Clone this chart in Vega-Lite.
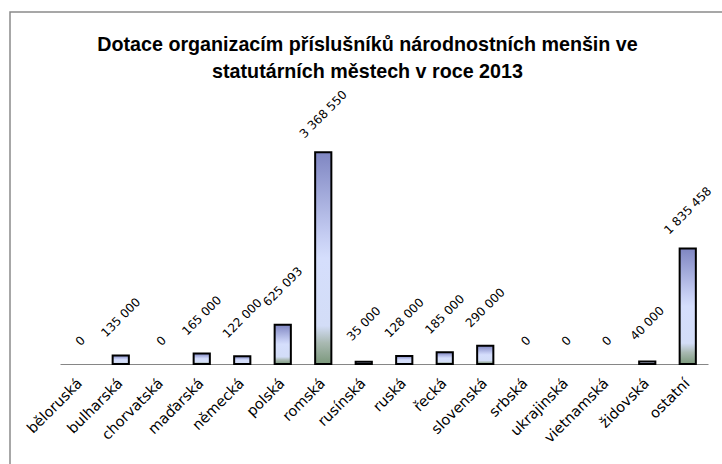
{
  "$schema": "https://vega.github.io/schema/vega-lite/v6.json",
  "width": 715,
  "height": 455,
  "autosize": {"type": "none"},
  "padding": {"left": 10, "top": 12, "right": -3, "bottom": -3},
  "background": "white",
  "title": {
    "text": ["Dotace organizacím příslušníků národnostních menšin ve", "statutárních městech  v roce 2013"],
    "font": "Liberation Sans",
    "fontSize": 19.7,
    "fontWeight": "bold",
    "color": "#000000",
    "anchor": "middle",
    "frame": "group",
    "baseline": "top",
    "offset": -70,
    "lineHeight": 27
  },
  "data": {
    "values": [
      {"narodnost": "běloruská", "dotace": 0},
      {"narodnost": "bulharská", "dotace": 135000},
      {"narodnost": "chorvatská", "dotace": 0},
      {"narodnost": "maďarská", "dotace": 165000},
      {"narodnost": "německá", "dotace": 122000},
      {"narodnost": "polská", "dotace": 625093},
      {"narodnost": "romská", "dotace": 3368550},
      {"narodnost": "rusínská", "dotace": 35000},
      {"narodnost": "ruská", "dotace": 128000},
      {"narodnost": "řecká", "dotace": 185000},
      {"narodnost": "slovenská", "dotace": 290000},
      {"narodnost": "srbská", "dotace": 0},
      {"narodnost": "ukrajinská", "dotace": 0},
      {"narodnost": "vietnamská", "dotace": 0},
      {"narodnost": "židovská", "dotace": 40000},
      {"narodnost": "ostatní", "dotace": 1835458}
    ]
  },
  "encoding": {
    "x": {
      "field": "narodnost",
      "type": "nominal",
      "sort": ["běloruská", "bulharská", "chorvatská", "maďarská", "německá", "polská", "romská", "rusínská", "ruská", "řecká", "slovenská", "srbská", "ukrajinská", "vietnamská", "židovská", "ostatní"],
      "scale": {"range": [50, 698], "paddingInner": 0.6, "paddingOuter": 0.3},
      "axis": {
        "title": null,
        "offset": -103,
        "labelAngle": -45,
        "labelAlign": "right",
        "labelBaseline": "middle",
        "labelPadding": 17,
        "ticks": false,
        "domainColor": "#868686",
        "domainWidth": 1,
        "labelFont": "DejaVu Sans",
        "labelFontSize": 14.5,
        "labelColor": "#000000",
        "labelOverlap": false,
        "grid": false
      }
    },
    "y": {
      "field": "dotace",
      "type": "quantitative",
      "scale": {"domain": [-1640000, 5600000]},
      "axis": null
    }
  },
  "layer": [
    {
      "transform": [{"filter": "datum.dotace > 0"}],
      "mark": {
        "type": "bar",
        "stroke": "#000000",
        "strokeWidth": 2,
        "color": {
          "gradient": "linear",
          "x1": 0, "y1": 0, "x2": 0, "y2": 1,
          "stops": [
            {"offset": 0, "color": "#7f86c2"},
            {"offset": 0.4, "color": "#c6cef3"},
            {"offset": 0.5, "color": "#d5defc"},
            {"offset": 0.82, "color": "#d3ddf7"},
            {"offset": 0.9, "color": "#a9b9b2"},
            {"offset": 1, "color": "#7b987b"}
          ]
        }
      },
      "encoding": {"y2": {"datum": 0}}
    },
    {
      "transform": [{"filter": "datum.dotace > 0"}],
      "mark": {"type": "text", "angle": 315, "align": "center", "baseline": "middle", "yOffset": -38, "font": "DejaVu Sans", "fontSize": 12, "color": "#000000"},
      "encoding": {"text": {"field": "dotace", "type": "quantitative", "format": ","}}
    },
    {
      "transform": [{"filter": "datum.dotace == 0"}],
      "mark": {"type": "text", "angle": 315, "align": "center", "baseline": "middle", "yOffset": -23, "font": "DejaVu Sans", "fontSize": 12, "color": "#000000"},
      "encoding": {"text": {"field": "dotace", "type": "quantitative", "format": ","}}
    }
  ],
  "config": {
    "view": {"stroke": "#8a8a8a", "strokeWidth": 1.5},
    "locale": {
      "number": {"decimal": ",", "thousands": "\u00a0", "grouping": [3], "currency": ["", "\u00a0Kč"]}
    }
  }
}
